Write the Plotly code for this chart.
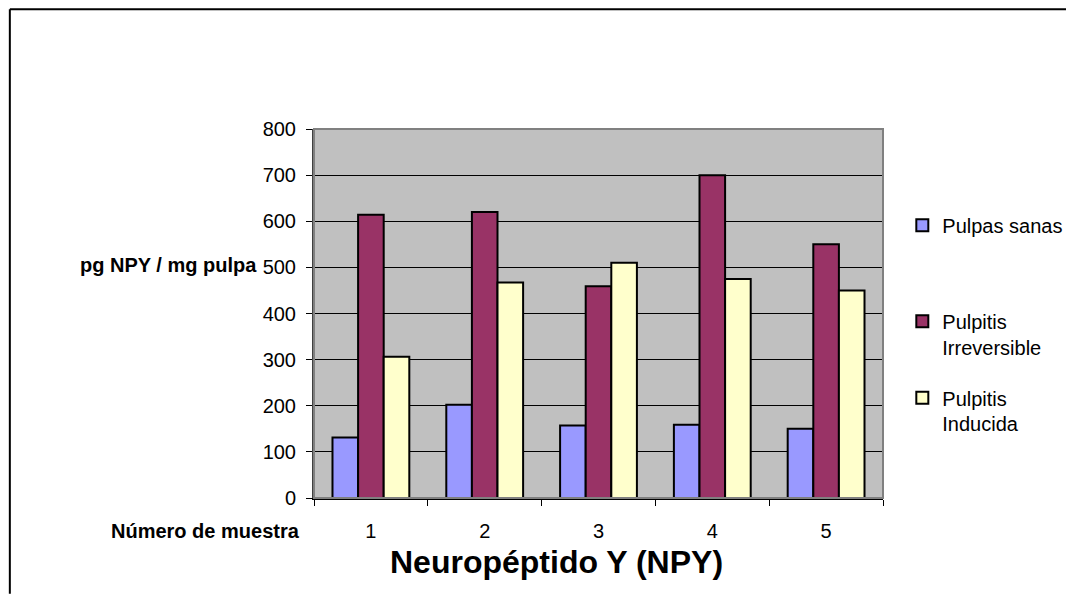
import plotly.graph_objects as go

# Sample numbers and NPY concentration (pg NPY / mg pulpa) per group
muestras = ["1", "2", "3", "4", "5"]
pulpas_sanas = [131, 202, 157, 159, 150]
pulpitis_irreversible = [614, 620, 459, 700, 550]
pulpitis_inducida = [306, 467, 510, 475, 450]

series_names = ["Pulpas sanas", "Pulpitis<br>Irreversible", "Pulpitis<br>Inducida"]
series_colors = ["#9999FF", "#993366", "#FFFFCC"]
y_ticks = [0, 100, 200, 300, 400, 500, 600, 700, 800]

FONT = "Arial, Liberation Sans, sans-serif"

# Pixel layout of the plotting area
W, H = 1066, 594
L, R, T, B = 314, 882.7, 129.3, 498.3


def px(xp):
    return (xp - L) / (R - L)


def py(yp):
    return (B - yp) / (B - T)


fig = go.Figure()
legend_ids = ["legend", "legend2", "legend3"]
for name, vals, color, lg in zip(series_names,
                                 [pulpas_sanas, pulpitis_irreversible, pulpitis_inducida],
                                 series_colors, legend_ids):
    fig.add_trace(go.Bar(
        x=muestras, y=vals, name=name, legend=lg, showlegend=True,
        marker=dict(color=color, line=dict(color="black", width=2)),
    ))

legend_style = dict(
    font=dict(family=FONT, size=20, color="black"),
    bgcolor="rgba(0,0,0,0)", borderwidth=0,
    xanchor="left", yanchor="top", valign="top",
    itemclick=False, itemdoubleclick=False,
)

fig.update_layout(
    width=W, height=H,
    margin=dict(l=L, r=W - R, t=T, b=H - B, pad=0, autoexpand=False),
    paper_bgcolor="white",
    plot_bgcolor="#C0C0C0",
    barmode="group",
    bargap=0.325,
    bargroupgap=0,
    showlegend=True,
    font=dict(family=FONT, size=20, color="black"),
    legend=dict(x=px(902), y=py(206), **legend_style),
    legend2=dict(x=px(902), y=py(302), **legend_style),
    legend3=dict(x=px(902), y=py(378.5), **legend_style),
    xaxis=dict(
        type="category",
        showgrid=False,
        showline=True, linecolor="black", linewidth=1.5,
        ticks="outside", tickson="boundaries", ticklen=6,
        tickcolor="black", tickwidth=1,
        tickfont=dict(family=FONT, size=20, color="black"),
        ticklabelstandoff=14,
        zeroline=False,
    ),
    yaxis=dict(
        range=[0, 800],
        tickvals=y_ticks,
        ticktext=[str(v) for v in y_ticks],
        showgrid=True, gridcolor="black", gridwidth=1,
        showline=True, linecolor="#404040", linewidth=2,
        ticks="outside", ticklen=6, tickcolor="black", tickwidth=1,
        tickfont=dict(family=FONT, size=20, color="black"),
        ticklabelstandoff=6,
        zeroline=False,
    ),
    shapes=[
        # grey frame around the plotting area (top and right edges)
        dict(type="rect", xref="paper", yref="paper", x0=0, x1=1, y0=0, y1=1,
             line=dict(color="#808080", width=2), layer="above"),
        # outer chart frame: top and left edges
        dict(type="line", xref="paper", yref="paper",
             x0=px(10), x1=px(1066), y0=py(9.5), y1=py(9.5),
             line=dict(color="black", width=2)),
        dict(type="line", xref="paper", yref="paper",
             x0=px(10), x1=px(10), y0=py(9.5), y1=py(594),
             line=dict(color="black", width=2)),
    ],
    annotations=[
        dict(text="<b>pg NPY / mg pulpa</b>", xref="paper", yref="paper",
             x=px(259), y=py(265), xanchor="right", yanchor="middle",
             showarrow=False, font=dict(family=FONT, size=20, color="black")),
        dict(text="<b>Número de muestra</b>", xref="paper", yref="paper",
             x=px(302), y=py(531), xanchor="right", yanchor="middle",
             showarrow=False, font=dict(family=FONT, size=20, color="black")),
        dict(text="<b>Neuropéptido Y (NPY)</b>", xref="paper", yref="paper",
             x=px(556), y=py(562), xanchor="center", yanchor="middle",
             showarrow=False, font=dict(family=FONT, size=32, color="black")),
    ],
)

fig.write_html("out.html")
